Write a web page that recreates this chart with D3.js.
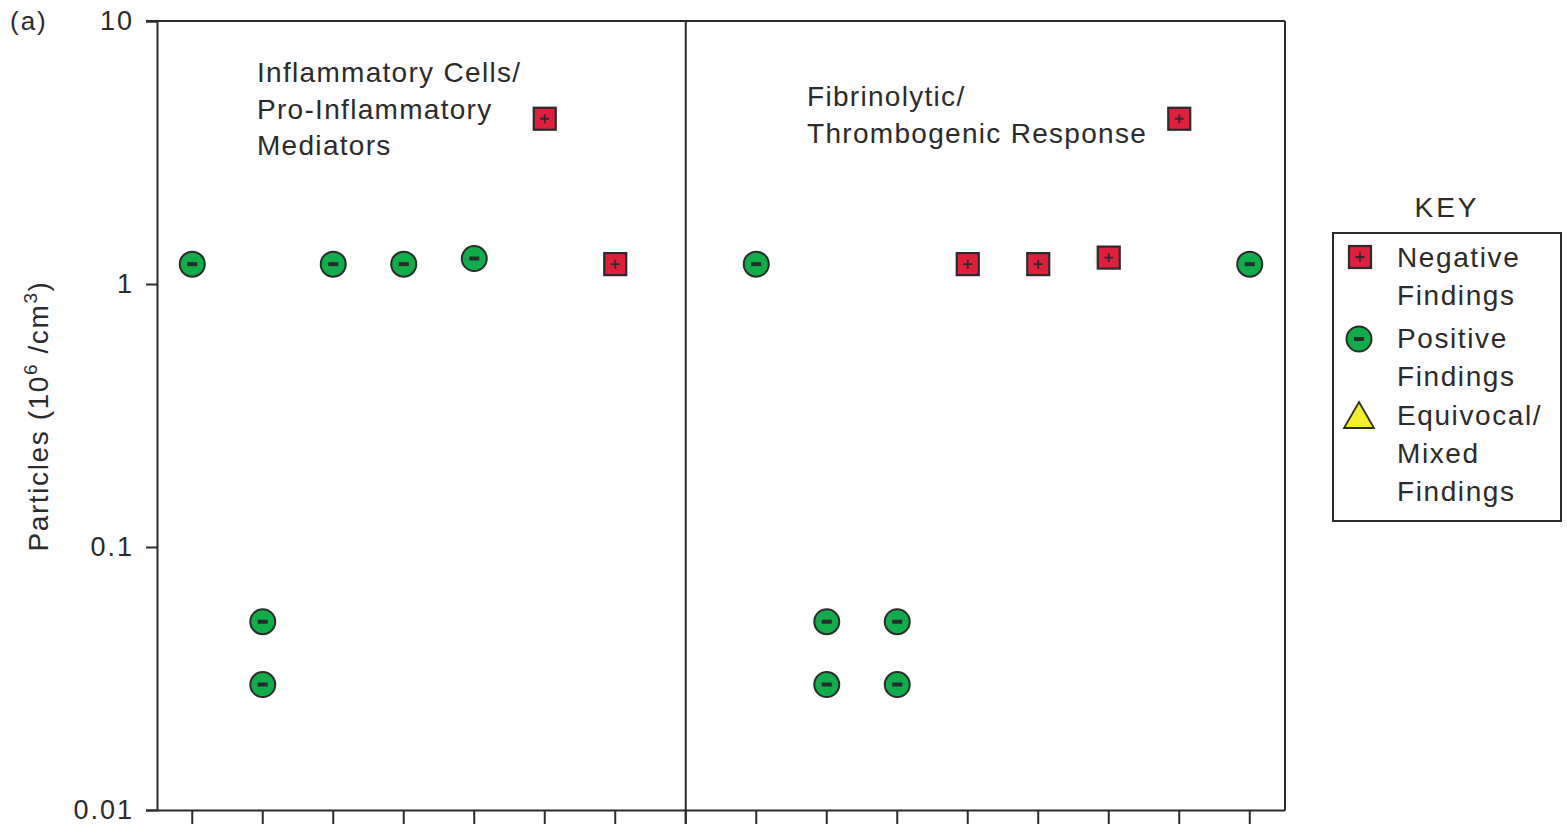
<!DOCTYPE html>
<html><head><meta charset="utf-8">
<script src="https://cdn.jsdelivr.net/npm/d3@7"></script>
<style>body{margin:0;background:#fff}svg{display:block}text{font-family:"Liberation Sans",Arial,sans-serif;fill:#2b2b2b}</style>
</head><body><svg id="c" width="1567" height="824"></svg>
<script>
const categories = d3.range(16);           // 16 slots, slot 7 is the panel divider
const yTicks = [0.01, 0.1, 1, 10];
const yTickLabels = ["0.01", "0.1", "1", "10"];
// Negative findings (red squares)
const negativeCat = [5, 6, 11, 12, 13, 14];
const negativeVal = [4.25, 1.19, 1.19, 1.19, 1.26, 4.25];
// Positive findings (green circles)
const positiveCat = [0, 1, 1, 2, 3, 4, 8, 9, 9, 10, 10, 15];
const positiveVal = [1.19, 0.052, 0.030, 1.19, 1.19, 1.25, 1.19, 0.052, 0.030, 0.052, 0.030, 1.19];
const panelTitles = [["Inflammatory Cells/", "Pro-Inflammatory", "Mediators"], ["Fibrinolytic/", "Thrombogenic Response"]];
const legendLabels = [["Negative", "Findings"], ["Positive", "Findings"], ["Equivocal/", "Mixed", "Findings"]];

const svg = d3.select("#c");
const L = 157, R = 1285, T = 21, B = 810;
const x = d3.scaleBand().domain(categories).range([L, R]);
const y = d3.scaleLog().domain([0.01, 10]).range([B, T]);
const ink = "#2b2b2b";
const red = "#e01f3d", green = "#12ad4b", yellow = "#f5ee2a";

// frame
svg.append("line").attr("x1", 146).attr("x2", R).attr("y1", T).attr("y2", T).attr("stroke", ink).attr("stroke-width", 2);
svg.append("line").attr("x1", R).attr("x2", R).attr("y1", T).attr("y2", B).attr("stroke", ink).attr("stroke-width", 2);
const divX = x(7) + x.bandwidth() / 2;
svg.append("line").attr("x1", divX).attr("x2", divX).attr("y1", T).attr("y2", 824).attr("stroke", ink).attr("stroke-width", 2);

// y axis
const yAxis = d3.axisLeft(y).tickValues(yTicks).tickFormat((d, i) => yTickLabels[i]).tickSize(11).tickPadding(12);
const gy = svg.append("g").attr("transform", `translate(${L},0)`).call(yAxis);
gy.selectAll("path,line").attr("stroke", ink).attr("stroke-width", 2);
gy.selectAll("text").style("font-size", "27px").style("letter-spacing", "2px").style("font-family", '"Liberation Sans",Arial,sans-serif').attr("fill", ink);

// x axis (ticks only)
const xAxis = d3.axisBottom(x).tickFormat("").tickSize(14).tickSizeOuter(0);
const gx = svg.append("g").attr("transform", `translate(0,${B})`).call(xAxis);
gx.select("path").attr("stroke", ink).attr("stroke-width", 2);
gx.selectAll("line").attr("stroke", ink).attr("stroke-width", 2);

// y label
svg.append("text").attr("transform", "translate(48,416) rotate(-90)").attr("text-anchor", "middle")
  .style("font-size", "28px").style("letter-spacing", "1.6px")
  .call(t => {
    t.append("tspan").text("Particles (10");
    t.append("tspan").attr("dy", -11).style("font-size", "19px").text("6");
    t.append("tspan").attr("dy", 11).text(" /cm");
    t.append("tspan").attr("dy", -11).style("font-size", "19px").text("3");
    t.append("tspan").attr("dy", 11).text(")");
  });

svg.append("text").attr("x", 10).attr("y", 30).style("font-size", "26px").style("letter-spacing", "2px").text("(a)");

// panel titles
const titlePos = [[257, 82], [807, 106]];
panelTitles.forEach((lines, i) => {
  lines.forEach((s, j) => svg.append("text").attr("x", titlePos[i][0]).attr("y", titlePos[i][1] + j * 36.5)
    .style("font-size", "28px").style("letter-spacing", "1.3px").text(s));
});

function drawSquare(g, cx, cy, s) {
  g.append("rect").attr("x", cx - s / 2).attr("y", cy - s / 2).attr("width", s).attr("height", s).attr("fill", red).attr("stroke", ink).attr("stroke-width", 2.2);
  g.append("path").attr("d", `M${cx - 4.5},${cy}H${cx + 4.5}M${cx},${cy - 4.5}V${cy + 4.5}`).attr("stroke", ink).attr("stroke-width", 1.8);
}
function drawCircle(g, cx, cy, r) {
  g.append("circle").attr("cx", cx).attr("cy", cy).attr("r", r).attr("fill", green).attr("stroke", ink).attr("stroke-width", 2);
  g.append("rect").attr("x", cx - 5).attr("y", cy - 2).attr("width", 10).attr("height", 4).attr("fill", ink);
}
const cx = c => x(c) + x.bandwidth() / 2;
const marks = svg.append("g");
positiveCat.forEach((c, i) => drawCircle(marks, cx(c), y(positiveVal[i]), 12.5));
negativeCat.forEach((c, i) => drawSquare(marks, cx(c), y(negativeVal[i]), 22));

// legend
svg.append("text").attr("x", 1447).attr("y", 217).attr("text-anchor", "middle").style("font-size", "28px").style("letter-spacing", "3px").text("KEY");
svg.append("rect").attr("x", 1333).attr("y", 233).attr("width", 228).attr("height", 288).attr("fill", "none").attr("stroke", ink).attr("stroke-width", 2);
const lg = svg.append("g");
drawSquare(lg, 1360, 257, 22);
drawCircle(lg, 1359, 339, 12.5);
lg.append("path").attr("d", "M1359,402L1374,428L1344,428Z").attr("fill", yellow).attr("stroke", ink).attr("stroke-width", 1.8);
const legStart = [267, 348, 425];
legendLabels.forEach((lines, i) => lines.forEach((s, j) =>
  svg.append("text").attr("x", 1397).attr("y", legStart[i] + j * 38).style("font-size", "28px").style("letter-spacing", "1.6px").text(s)));
</script></body></html>
